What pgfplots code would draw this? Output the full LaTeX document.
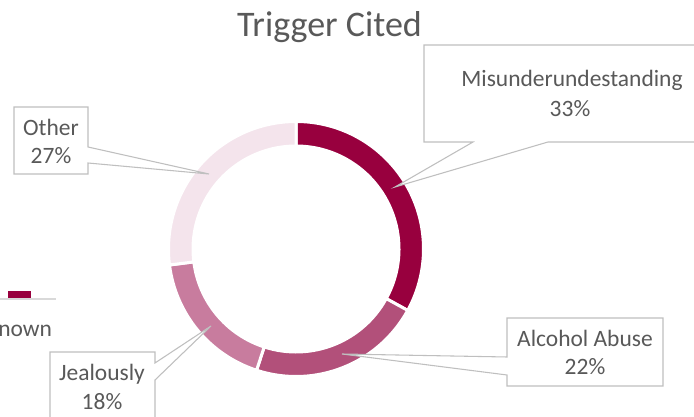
\documentclass[border=0pt]{standalone}
\usepackage{fontspec}
\setmainfont{Carlito}
\usepackage{pgfplots}
\usepackage{pgfplotstable}
\pgfplotsset{compat=1.18}

\definecolor{c0}{RGB}{152,0,62}
\definecolor{c1}{RGB}{178,80,122}
\definecolor{c2}{RGB}{200,124,158}
\definecolor{c3}{RGB}{244,228,236}
\definecolor{txt}{RGB}{89,89,89}
\definecolor{boxline}{RGB}{191,191,191}
\definecolor{axline}{RGB}{217,217,217}

\pgfplotstableread{
label value
Misunderundestanding 33
{Alcohol Abuse} 22
Jealously 18
Other 27
}\triggertable

% cumulative angles, clockwise from 12 o'clock
\gdef\cum{0}
\pgfplotstableforeachcolumnelement{value}\of\triggertable\as\val{%
  \pgfmathsetmacro\sa{90-3.6*\cum}%
  \pgfmathsetmacro\cumnew{\cum+\val}%
  \pgfmathsetmacro\ea{90-3.6*\cumnew}%
  \expandafter\xdef\csname sa\pgfplotstablerow\endcsname{\sa}%
  \expandafter\xdef\csname ea\pgfplotstablerow\endcsname{\ea}%
  \xdef\cum{\cumnew}%
}

\newcommand{\lbl}{\fontsize{17.6}{21}\selectfont}

\begin{document}
\begin{tikzpicture}
\useasboundingbox (0,0) rectangle (520.5pt,312.75pt);
\begin{axis}[
    x=0.75pt, y=0.75pt,
    xmin=0, xmax=694, ymin=0, ymax=417,
    hide axis, clip=false,
]
% donut ring
\pgfplotsinvokeforeach{0,...,3}{
  \filldraw[fill=c#1, draw=white, line width=2.25pt, shift={(axis cs:296,168)}]
    (\csname sa#1\endcsname:95.625pt)
    arc[start angle=\csname sa#1\endcsname, end angle=\csname ea#1\endcsname, radius=95.625pt]
    -- (\csname ea#1\endcsname:77.25pt)
    arc[start angle=\csname ea#1\endcsname, end angle=\csname sa#1\endcsname, radius=77.25pt]
    -- cycle;
}

% fragment of the neighbouring chart at the left edge
\draw[axline, line width=1.2pt] (axis cs:-5,118) -- (axis cs:56,118);
\addplot[fill=c0, draw=none, mark=none] coordinates {(8,119) (31,119) (31,126) (8,126)};
\node[anchor=base west, inner sep=0pt, text=txt, font=\lbl] at (axis cs:-2,80) {nown};

% title
\node[anchor=base, text=txt, font=\fontsize{27}{32}\selectfont] at (axis cs:329.5,380) {Trigger Cited};

% callouts
\filldraw[fill=white, draw=boxline, line width=0.8pt]
  (axis cs:700,372) -- (axis cs:424,372) -- (axis cs:424,275) -- (axis cs:473,275)
  -- (axis cs:395,230) -- (axis cs:548,275) -- (axis cs:700,275) -- cycle;
\node[anchor=base, text=txt, font=\lbl] at (axis cs:572,330) {Misunderundestanding};
\node[anchor=base, text=txt, font=\lbl] at (axis cs:570,300) {33\%};

\filldraw[fill=white, draw=boxline, line width=0.8pt]
  (axis cs:14,310) -- (axis cs:88,310) -- (axis cs:88,270) -- (axis cs:209,243)
  -- (axis cs:88,254) -- (axis cs:88,243) -- (axis cs:14,243) -- cycle;
\node[anchor=base, text=txt, font=\lbl] at (axis cs:51,281) {Other};
\node[anchor=base, text=txt, font=\lbl] at (axis cs:51,253) {27\%};

\filldraw[fill=white, draw=boxline, line width=0.8pt]
  (axis cs:50,-10) -- (axis cs:50,65) -- (axis cs:155,65) -- (axis cs:155,54)
  -- (axis cs:211,91) -- (axis cs:155,37) -- (axis cs:155,-10) -- cycle;
\node[anchor=base, text=txt, font=\lbl] at (axis cs:102,36) {Jealously};
\node[anchor=base, text=txt, font=\lbl] at (axis cs:102,7) {18\%};

\filldraw[fill=white, draw=boxline, line width=0.8pt]
  (axis cs:507,99) -- (axis cs:663,99) -- (axis cs:663,31) -- (axis cs:507,31)
  -- (axis cs:507,42) -- (axis cs:342,63) -- (axis cs:507,60) -- cycle;
\node[anchor=base, text=txt, font=\lbl] at (axis cs:585,70) {Alcohol Abuse};
\node[anchor=base, text=txt, font=\lbl] at (axis cs:585,42) {22\%};
\end{axis}
\end{tikzpicture}
\end{document}
